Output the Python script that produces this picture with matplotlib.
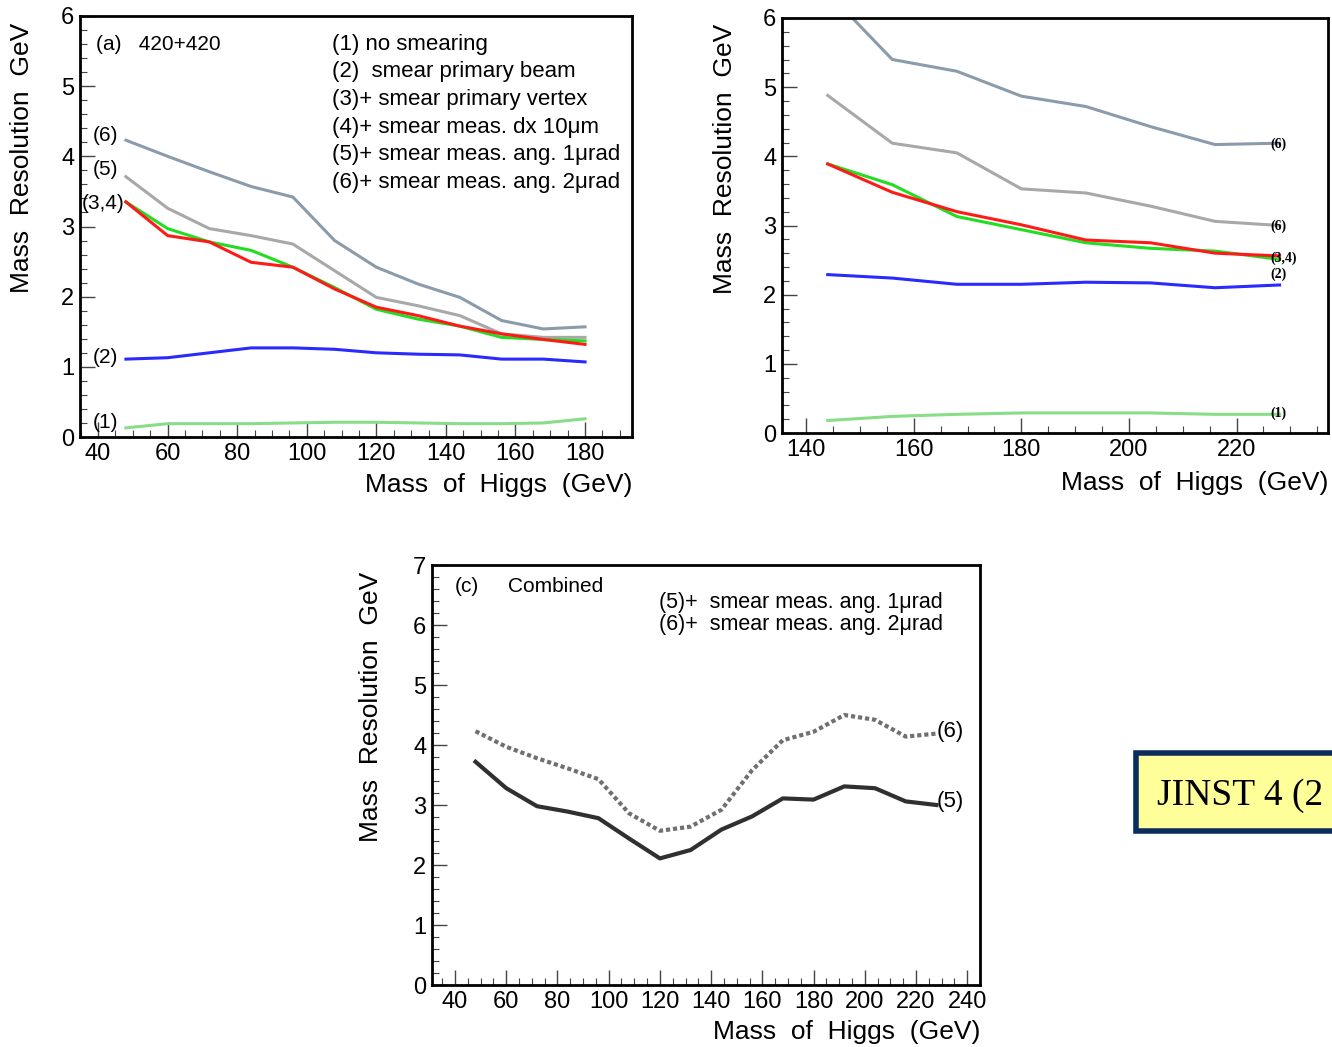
import numpy as np
import matplotlib
matplotlib.use('Agg')
import matplotlib.pyplot as plt
from matplotlib.ticker import MultipleLocator
from matplotlib.patches import Rectangle

plt.rcParams['font.family'] = ['Liberation Sans', 'DejaVu Sans']

# ---------------------------------------------------------------------
# data
# ---------------------------------------------------------------------
mass_a = [48, 60, 72, 84, 96, 108, 120, 132, 144, 156, 168, 180]
a_nosmear = [0.13, 0.19, 0.19, 0.19, 0.20, 0.21, 0.21, 0.20, 0.19, 0.19, 0.20, 0.26]
a_beam    = [1.11, 1.13, 1.20, 1.27, 1.27, 1.25, 1.20, 1.18, 1.17, 1.11, 1.11, 1.07]
a_vertex  = [3.35, 2.97, 2.78, 2.66, 2.42, 2.13, 1.82, 1.68, 1.58, 1.42, 1.39, 1.37]
a_dx      = [3.35, 2.87, 2.78, 2.49, 2.42, 2.11, 1.85, 1.73, 1.58, 1.47, 1.39, 1.32]
a_ang1    = [3.71, 3.26, 2.97, 2.87, 2.75, 2.37, 1.99, 1.87, 1.73, 1.47, 1.42, 1.42]
a_ang2    = [4.23, 4.00, 3.78, 3.57, 3.42, 2.80, 2.42, 2.18, 1.99, 1.66, 1.54, 1.57]

mass_b = [144, 156, 168, 180, 192, 204, 216, 228]
b_nosmear = [0.18, 0.24, 0.27, 0.29, 0.29, 0.29, 0.27, 0.27]
b_beam    = [2.29, 2.24, 2.15, 2.15, 2.18, 2.17, 2.10, 2.14]
b_vertex  = [3.89, 3.59, 3.13, 2.94, 2.75, 2.67, 2.63, 2.51]
b_dx      = [3.89, 3.48, 3.20, 3.01, 2.79, 2.75, 2.60, 2.56]
b_ang1    = [4.88, 4.19, 4.05, 3.53, 3.47, 3.28, 3.06, 3.00]
b_ang2    = [6.37, 5.40, 5.23, 4.87, 4.72, 4.43, 4.17, 4.19]

mass_c = [48, 60, 72, 84, 96, 108, 120, 132, 144, 156, 168, 180, 192, 204, 216, 228]
c_ang1 = [3.72, 3.28, 2.98, 2.89, 2.78, 2.44, 2.11, 2.25, 2.59, 2.81, 3.11, 3.09, 3.31, 3.28, 3.06, 3.00]
c_ang2 = [4.23, 3.97, 3.78, 3.61, 3.43, 2.86, 2.57, 2.64, 2.92, 3.58, 4.08, 4.22, 4.50, 4.42, 4.14, 4.19]

legend_a = ["(1) no smearing",
            "(2)  smear primary beam",
            "(3)+ smear primary vertex",
            "(4)+ smear meas. dx 10μm",
            "(5)+ smear meas. ang. 1μrad",
            "(6)+ smear meas. ang. 2μrad"]

COL = dict(nosmear='#88dd88', beam='#2a2aff', vertex='#22dd22',
           dx='#ff1a1a', ang1='#a8a8a8', ang2='#8a9cac')

W, H = 1332, 1047
fig = plt.figure(figsize=(W / 100, H / 100), dpi=100)


def box(l, r, t, b):
    return [l / W, 1 - b / H, (r - l) / W, (b - t) / H]


def root_axes(ax, xlim, ylim, ylab_x, xlab_y):
    ax.set_xlim(*xlim)
    ax.set_ylim(*ylim)
    ax.xaxis.set_major_locator(MultipleLocator(20))
    ax.xaxis.set_minor_locator(MultipleLocator(5))
    ax.yaxis.set_major_locator(MultipleLocator(1))
    ax.yaxis.set_minor_locator(MultipleLocator(0.2))
    ax.tick_params(which='both', direction='in', top=False, right=False,
                   labelsize=17, color='#444444')
    ax.tick_params(which='major', length=11, width=1, pad=4)
    ax.tick_params(which='minor', length=5, width=0.8)
    for s in ax.spines.values():
        s.set_linewidth(2)
    ax.set_ylabel("Mass  Resolution  GeV", fontsize=19, loc='top')
    ax.set_xlabel("Mass  of  Higgs  (GeV)", fontsize=19, loc='right')
    ax.yaxis.set_label_coords(ylab_x, 0.985)
    ax.xaxis.set_label_coords(1.0, xlab_y)


LW = 2.2

# ── Panel (a) ────────────────────────────────────────────────────────
ax = fig.add_axes(box(80, 632, 16, 437))
root_axes(ax, (34.8, 193.5), (0, 6), -0.083, -0.085)
ax.plot(mass_a, a_nosmear, color=COL['nosmear'], lw=LW)
ax.plot(mass_a, a_beam, color=COL['beam'], lw=LW)
ax.plot(mass_a, a_ang2, color=COL['ang2'], lw=LW)
ax.plot(mass_a, a_ang1, color=COL['ang1'], lw=LW)
ax.plot(mass_a, a_vertex, color=COL['vertex'], lw=LW)
ax.plot(mass_a, a_dx, color=COL['dx'], lw=LW)
ax.text(39.5, 5.6, "(a)   420+420", fontsize=15, va='center')
for i, s in enumerate(legend_a):
    ax.text(107.3, 5.6 - 0.394 * i, s, fontsize=16, va='center')
for lab, yy, xx in [("(6)", 4.29, 38.5), ("(5)", 3.81, 38.5), ("(3,4)", 3.33, 35.2),
                    ("(2)", 1.13, 38.5), ("(1)", 0.20, 38.5)]:
    ax.text(xx, yy, lab, fontsize=15, va='center')

# ── Panel (b) ────────────────────────────────────────────────────────
ax = fig.add_axes(box(782, 1328, 18, 433))
root_axes(ax, (135.5, 237.0), (0, 6), -0.083, -0.092)
ax.plot(mass_b, b_nosmear, color=COL['nosmear'], lw=LW)
ax.plot(mass_b, b_beam, color=COL['beam'], lw=LW)
ax.plot(mass_b, b_ang2, color=COL['ang2'], lw=LW)
ax.plot(mass_b, b_ang1, color=COL['ang1'], lw=LW)
ax.plot(mass_b, b_vertex, color=COL['vertex'], lw=LW)
ax.plot(mass_b, b_dx, color=COL['dx'], lw=LW)
for lab, yy in [("(6)", 4.18), ("(6)", 2.99), ("(3,4)", 2.52), ("(2)", 2.30), ("(1)", 0.28)]:
    ax.text(226.3, yy, lab, fontsize=10, va='center', family='Liberation Serif',
            fontweight='bold')

# ── Panel (c) ────────────────────────────────────────────────────────
ax = fig.add_axes(box(432, 980, 565, 985))
root_axes(ax, (31.0, 245.0), (0, 7), -0.089, -0.083)
ax.plot(mass_c, c_ang2, color='#707070', lw=3, ls=(0, (1, 0.7)))
ax.plot(mass_c, c_ang1, color='#303030', lw=3)
ax.text(40, 6.65, "(c)", fontsize=15, va='center')
ax.text(60.5, 6.65, "Combined", fontsize=15, va='center')
ax.text(119.7, 6.37, "(5)+  smear meas. ang. 1μrad", fontsize=15.5, va='center')
ax.text(119.7, 6.01, "(6)+  smear meas. ang. 2μrad", fontsize=15.5, va='center')
ax.text(227.9, 4.23, "(6)", fontsize=16, va='center')
ax.text(227.9, 3.05, "(5)", fontsize=16, va='center')

# ── journal tag, cut by the right edge ───────────────────────────────
fig.add_artist(Rectangle((1136 / W, 1 - 831 / H), 260 / W, 78 / H,
                         transform=fig.transFigure, facecolor='#ffff99',
                         edgecolor='#0b2d5e', lw=4, clip_on=False))
fig.text(1157 / W, 1 - 796 / H, "JINST 4 (2", fontsize=27,
         family='Liberation Serif', va='center', ha='left')

fig.savefig('out.png', dpi=100)
